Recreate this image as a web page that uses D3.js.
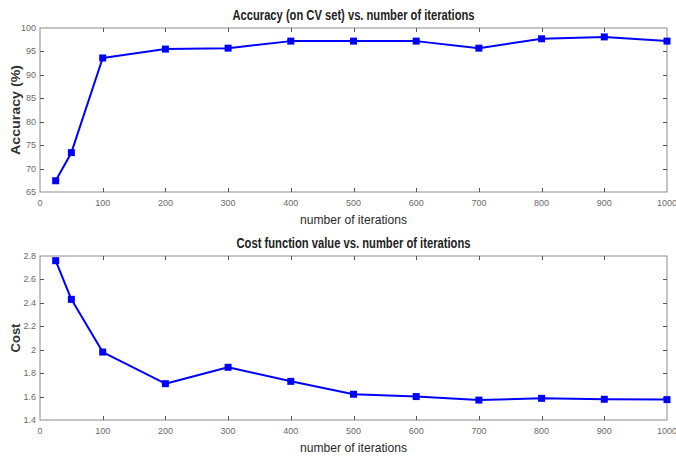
<!DOCTYPE html>
<html>
<head>
<meta charset="utf-8">
<script src="https://cdn.jsdelivr.net/npm/d3@7"></script>
<style>
  html, body { margin: 0; padding: 0; background: #fff; }
  svg { display: block; }
  .tick-label { font-family: "Liberation Sans Narrow", "Arial Narrow", "Liberation Sans", Arial, sans-serif; font-size: 9px; fill: #6a6a6a; }
  .title { font-family: "Liberation Sans Narrow", "Arial Narrow", "Liberation Sans", Arial, sans-serif; font-size: 14px; font-weight: bold; fill: #222; }
  .xlabel { font-family: "Liberation Sans Narrow", "Arial Narrow", "Liberation Sans", Arial, sans-serif; font-size: 13.5px; fill: #2a2a2a; }
  .ylabel { font-family: "Liberation Sans", Arial, sans-serif; font-size: 13px; font-weight: bold; fill: #333; }
</style>
</head>
<body>
<script>
// ---- data ----
const iterations = [25, 50, 100, 200, 300, 400, 500, 600, 700, 800, 900, 1000];
const accuracy   = [67.4, 73.4, 93.6, 95.5, 95.7, 97.2, 97.2, 97.2, 95.7, 97.7, 98.1, 97.2];
const cost       = [2.76, 2.43, 1.98, 1.71, 1.85, 1.73, 1.62, 1.60, 1.57, 1.585, 1.577, 1.574];
const xTicks     = [0, 100, 200, 300, 400, 500, 600, 700, 800, 900, 1000];
const accTicks   = [65, 70, 75, 80, 85, 90, 95, 100];
const costTicks  = [1.4, 1.6, 1.8, 2, 2.2, 2.4, 2.6, 2.8];
const titles     = ["Accuracy (on CV set) vs. number of iterations", "Cost function value vs. number of iterations"];
const yLabels    = ["Accuracy (%)", "Cost"];
const xLabel     = "number of iterations";

const W = 676, H = 457;
const svg = d3.select("body").append("svg").attr("width", W).attr("height", H);

const left = 40, right = 667;
const panels = [
  { top: 28, bottom: 192, values: accuracy, domain: [65, 100], ticks: accTicks, fmt: d => String(d), title: titles[0], ylab: yLabels[0], titleLen: 242, ylabLen: 90 },
  { top: 256, bottom: 420, values: cost, domain: [1.4, 2.8], ticks: costTicks, fmt: d => String(d), title: titles[1], ylab: yLabels[1], titleLen: 234, ylabLen: 0 }
];

panels.forEach(p => {
  const x = d3.scaleLinear().domain([0, 1000]).range([left, right]);
  const y = d3.scaleLinear().domain(p.domain).range([p.bottom, p.top]);
  const g = svg.append("g");
  const tickLen = 4;

  // box
  g.append("rect").attr("x", left).attr("y", p.top)
    .attr("width", right - left).attr("height", p.bottom - p.top)
    .attr("fill", "none").attr("stroke", "#8a8a8a").attr("stroke-width", 1);

  // x ticks (inward, bottom and top)
  xTicks.forEach(t => {
    const xx = Math.round(x(t)) + 0.5;
    if (t !== 0 && t !== 1000) {
      g.append("line").attr("x1", xx).attr("x2", xx).attr("y1", p.bottom).attr("y2", p.bottom - tickLen).attr("stroke", "#555").attr("stroke-width", 1);
      g.append("line").attr("x1", xx).attr("x2", xx).attr("y1", p.top).attr("y2", p.top + tickLen).attr("stroke", "#555").attr("stroke-width", 1);
    }
    g.append("text").attr("class", "tick-label").attr("x", x(t)).attr("y", p.bottom + 14)
      .attr("text-anchor", "middle").text(t);
  });

  // y ticks (inward, left and right)
  p.ticks.forEach(t => {
    const yy = Math.round(y(t)) + 0.5;
    if (t !== p.domain[0] && t !== p.domain[1]) {
      g.append("line").attr("x1", left).attr("x2", left + tickLen).attr("y1", yy).attr("y2", yy).attr("stroke", "#555").attr("stroke-width", 1);
      g.append("line").attr("x1", right).attr("x2", right - tickLen).attr("y1", yy).attr("y2", yy).attr("stroke", "#555").attr("stroke-width", 1);
    }
    g.append("text").attr("class", "tick-label").attr("x", left - 4).attr("y", y(t) + 3)
      .attr("text-anchor", "end").text(p.fmt(t));
  });

  // line
  const pts = iterations.map((d, i) => [d, p.values[i]]);
  g.append("path").datum(pts)
    .attr("d", d3.line().x(d => x(d[0])).y(d => y(d[1])))
    .attr("fill", "none").attr("stroke", "#0000ff").attr("stroke-width", 2).attr("stroke-linejoin", "round");

  const ms = 7;
  g.selectAll("rect.m").data(pts).enter().append("rect").attr("class", "m")
    .attr("x", d => x(d[0]) - ms / 2).attr("y", d => y(d[1]) - ms / 2)
    .attr("width", ms).attr("height", ms).attr("fill", "#0000ff");

  // title
  g.append("text").attr("class", "title").attr("x", (left + right) / 2).attr("y", p.top - 8)
    .attr("text-anchor", "middle")
    .attr("textLength", p.titleLen).attr("lengthAdjust", "spacingAndGlyphs")
    .text(p.title);

  // x label
  g.append("text").attr("class", "xlabel").attr("x", (left + right) / 2).attr("y", p.bottom + 32)
    .attr("text-anchor", "middle")
    .attr("textLength", 107).attr("lengthAdjust", "spacingAndGlyphs")
    .text(xLabel);

  // y label
  const yl = g.append("text").attr("class", "ylabel")
    .attr("transform", `translate(20,${(p.top + p.bottom) / 2}) rotate(-90)`)
    .attr("text-anchor", "middle").text(p.ylab);
  if (p.ylabLen) yl.attr("textLength", p.ylabLen).attr("lengthAdjust", "spacingAndGlyphs");
});
</script>
</body>
</html>
